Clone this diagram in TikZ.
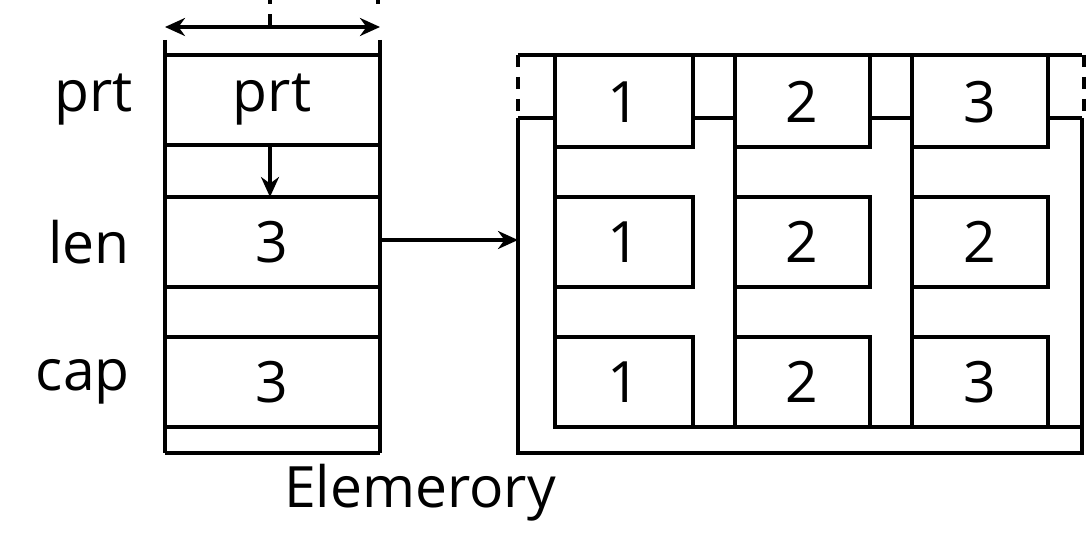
\documentclass[tikz,border=0pt]{standalone}
\usepackage{fontspec}
\setmainfont{Open Sans}
\usetikzlibrary{arrows.meta}
\begin{document}
\begin{tikzpicture}[x=1pt,y=-1pt,line width=4.5pt,
  lbl/.style={font=\fontsize{57}{60}\selectfont,inner sep=0},
  arr/.style={-{Stealth[length=20pt,width=18pt]}}]
\useasboundingbox (0,0) rectangle (1092,540);
% left struct
\draw (165,40) -- (165,453) (380,40) -- (380,453);
\foreach \y in {55,145,197,287,337,427,453} \draw (165,\y) -- (380,\y);
\draw[{Stealth[length=20pt,width=18pt]}-{Stealth[length=20pt,width=18pt]},line width=4pt] (165,27) -- (380,27);
\draw[line width=4pt] (270,27) -- (270,14);
\draw[line width=4pt] (270,0) -- (270,4) (378,0) -- (378,4);
\node[lbl] (p) at (272,100) {prt};
\node[lbl] (l) at (272,242) {3};
\node[lbl] (c) at (272,382) {3};
\coordinate (pb) at (270,145);
\coordinate (lt) at (270,197);
\draw[arr,line width=4pt] (pb) -- (lt);
\node[lbl,anchor=east] at (135,100) {prt};
\node[lbl,anchor=east] at (132,242) {len};
\node[lbl,anchor=east] at (132,382) {cap};
% right
\draw (518,118) -- (518,453) -- (1082,453) -- (1082,118);
\draw (518,55) -- (1082,55);
\draw[dashed,dash pattern=on 12pt off 10pt] (518,55) -- (518,118) (1084,55) -- (1084,118);
\draw (518,118) -- (555,118) (693,118) -- (735,118) (870,118) -- (912,118) (1048,118) -- (1082,118);
\foreach \x in {555,735,912} \draw (\x,55) -- (\x,427);
\draw (555,427) -- (1082,427) -- (1082,118);
\foreach \x/\w in {555/693,735/870,912/1048}{
  \draw (\x,55) rectangle (\w,147);
  \draw (\x,197) rectangle (\w,287);
  \draw (\x,337) rectangle (\w,427);
}
\node[lbl] at (624,102) {1};
\node[lbl] at (802,102) {2};
\node[lbl] at (980,102) {3};
\node[lbl] at (624,242) {1};
\node[lbl] at (802,242) {2};
\node[lbl] at (980,242) {2};
\node[lbl] at (624,382) {1};
\node[lbl] at (802,382) {2};
\node[lbl] at (980,382) {3};
\coordinate (ls) at (380,240);
\coordinate (rs) at (518,240);
\draw[arr,line width=4pt] (ls) -- (rs);
\node[lbl] at (420,493) {Elemerory};
\end{tikzpicture}
\end{document}
